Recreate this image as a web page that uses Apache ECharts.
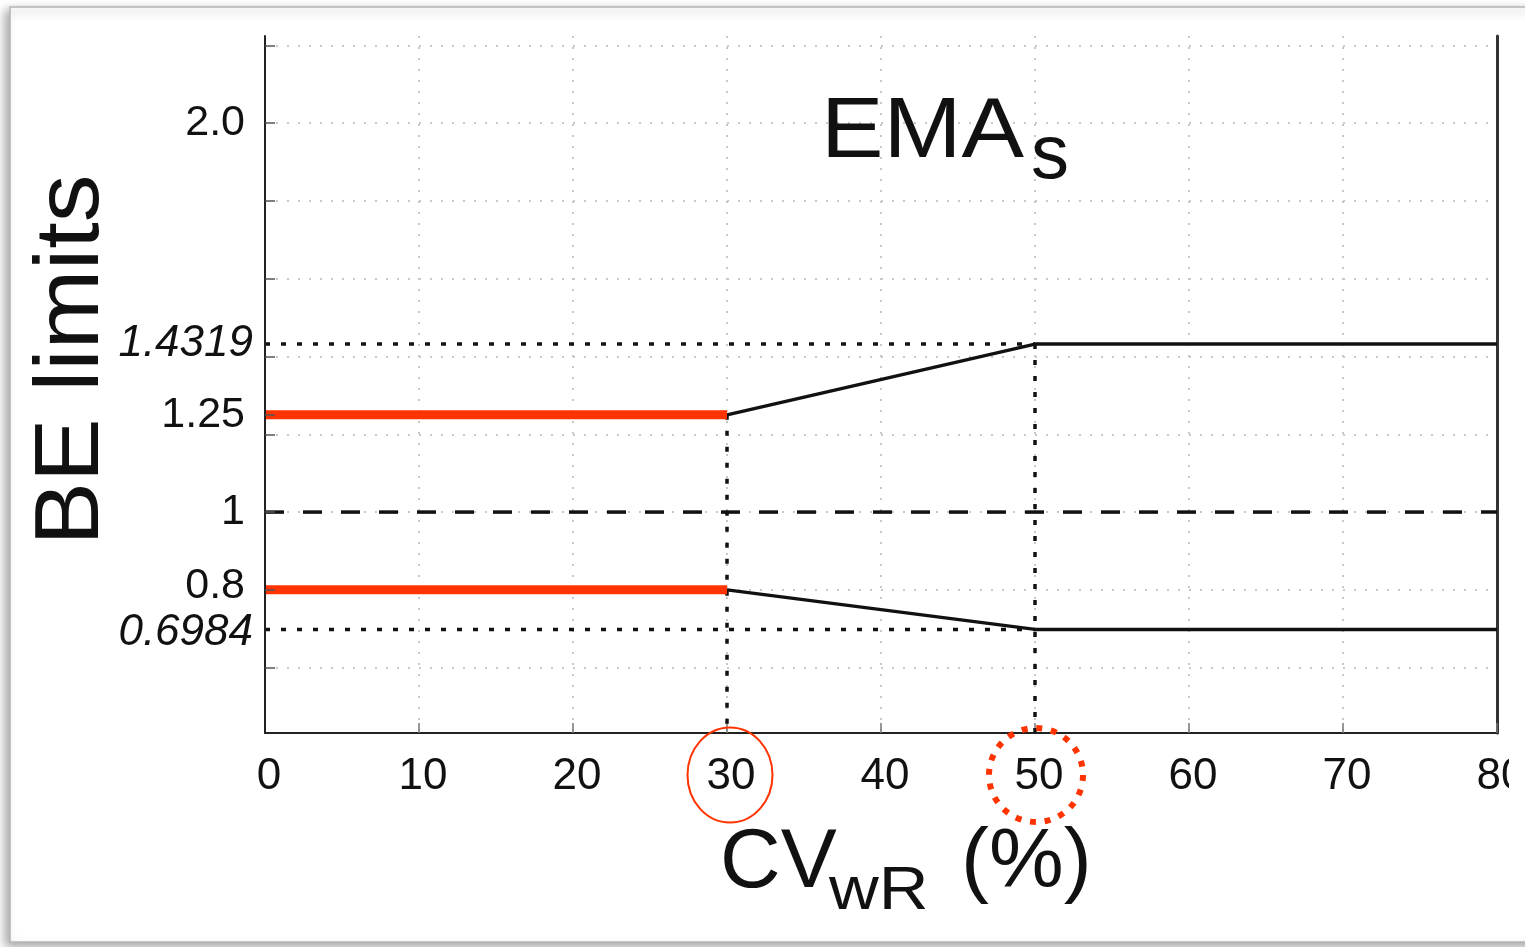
<!DOCTYPE html>
<html>
<head>
<meta charset="utf-8">
<script src="https://cdn.jsdelivr.net/npm/echarts@6/dist/echarts.min.js"></script>
<style>
  html, body { margin: 0; padding: 0; background: #fff; }
  #chart { width: 1525px; height: 947px; }
</style>
</head>
<body>
<div id="chart"></div>
<script>
// Bioequivalence acceptance limits vs. within-subject CV of the reference (EMA, scaled)
const cvTicks = [0, 10, 20, 30, 40, 50, 60, 70, 80];
const cvBreaks = [0, 30, 50, 80];                 // start, scaling begins, scaling capped, end
const upperLimit = [1.25, 1.25, 1.4319, 1.4319];
const lowerLimit = [0.8, 0.8, 0.6984, 0.6984];
const unityValue = 1;
const yRange = [0.432, 2.224];
const yGridValues = [0.6, 0.8, 1.0, 1.2, 1.4, 1.6, 1.8, 2.0, 2.2];
const yLabelValues = [2.0, 1.4319, 1.25, 1, 0.8, 0.6984];
const yLabelTexts = ['2.0', '1.4319', '1.25', '1', '0.8', '0.6984'];
const yLabelItalic = [false, true, false, false, false, true];

const FONT = '"Liberation Sans", Arial, Helvetica, sans-serif';
const RED = '#ff3300';
const xMin = cvTicks[0];
const xMax = cvTicks[cvTicks.length - 1];

function segment(ys, from, to) {
  const pts = [];
  for (let i = from; i <= to; i++) pts.push([cvBreaks[i], ys[i]]);
  return pts;
}

function line(name, data, color, width, type, z) {
  return {
    type: 'line', name, data, z, symbol: 'none', silent: true,
    lineStyle: { color, width, type, cap: 'butt' },
    emphasis: { disabled: true }
  };
}

function label(text, x, y, size, extra) {
  return Object.assign({
    type: 'text', x, y, z: 10, silent: true,
    style: { text, fontSize: size, fontFamily: FONT, fill: '#111',
             align: 'left', verticalAlign: 'middle', textAlign: 'left', textVerticalAlign: 'middle' }
  }, extra || {});
}

function yLabelText(v) {
  for (let i = 0; i < yLabelValues.length; i++) {
    if (Math.abs(v - yLabelValues[i]) < 1e-6) {
      const style = yLabelItalic[i] ? (v < 1 ? 'il' : 'i') : (v < 1 && v > lowerLimit[2] ? 'nl' : 'n');
      return '{' + style + '|' + yLabelTexts[i] + '}';
    }
  }
  return '';
}

const yRich = {
  n: { fontSize: 43, fontFamily: FONT, color: '#111', lineHeight: 20 },
  nl: { fontSize: 43, fontFamily: FONT, color: '#111', lineHeight: 20, padding: [0, 0, 7, 0] },
  i: { fontSize: 44, fontFamily: FONT, color: '#111', fontStyle: 'italic', lineHeight: 20, padding: [0, -8, 0, 0] },
  il: { fontSize: 44, fontFamily: FONT, color: '#111', fontStyle: 'italic', lineHeight: 20, padding: [6, -8, 0, 0] }
};

// the lowest limit label sits close to 0.8, so it lives on its own overlaid axis
const mainLabels = yLabelValues.filter(v => v !== lowerLimit[2]);
const lowLabels = yLabelValues.filter(v => v === lowerLimit[2]);

function labelAxis(values, extra) {
  return Object.assign({
    type: 'value', min: yRange[0], max: yRange[1], position: 'left', z: 5,
    axisLine: { show: false }, axisTick: { show: false }, splitLine: { show: false },
    axisLabel: {
      customValues: values, margin: 20, hideOverlap: false, interval: 0,
      showMinLabel: true, showMaxLabel: true,
      formatter: yLabelText, rich: yRich
    }
  }, extra || {});
}

const chart = echarts.init(document.getElementById('chart'));

chart.setOption({
  animation: false,
  backgroundColor: '#ffffff',
  grid: { left: 265, right: 28, top: 36, bottom: 214, containLabel: false, outerBoundsMode: 'none' },
  xAxis: {
    type: 'value', min: xMin, max: xMax, interval: 10,
    axisLine: { show: true, onZero: false, lineStyle: { color: '#222', width: 2 } },
    axisTick: { show: true, inside: true, length: 10, lineStyle: { color: '#777', width: 1.5 } },
    axisLabel: { fontSize: 44, color: '#111', fontFamily: FONT, margin: 22, padding: [0, 0, 0, 8],
                 showMinLabel: true, showMaxLabel: true, hideOverlap: false },
    splitLine: { show: true, lineStyle: { color: '#c8c8c8', width: 2, type: [2, 9] } }
  },
  yAxis: [
    labelAxis(mainLabels, {
      axisLine: { show: true, onZero: false, lineStyle: { color: '#222', width: 2 } },
      axisTick: {
        show: true, inside: true, length: 10,
        customValues: yGridValues.concat([upperLimit[0]]),
        lineStyle: { color: '#555', width: 1.5 }
      }
    }),
    {
      type: 'value', position: 'right', min: yRange[0], max: yRange[1],
      axisLine: { show: true, onZero: false, lineStyle: { color: '#333', width: 3 } },
      axisTick: { show: false }, axisLabel: { show: false }, splitLine: { show: false }
    },
    labelAxis(lowLabels, { offset: 0 })
  ],
  series: [
    {
      type: 'lines', coordinateSystem: 'cartesian2d', silent: true, z: 1,
      lineStyle: { color: '#c8c8c8', width: 2, type: [2, 9], opacity: 1 },
      data: yGridValues.map(v => ({ coords: [[xMin, v], [xMax, v]] }))
    },
    // dotted guides at the scaling limits
    line('guide-upper', [[xMin, upperLimit[2]], [cvBreaks[2], upperLimit[2]]], '#111', 3.5, [5, 11], 3),
    line('guide-lower', [[xMin, lowerLimit[2]], [cvBreaks[2], lowerLimit[2]]], '#111', 3.5, [5, 11], 3),
    line('guide-cv30', [[cvBreaks[1], upperLimit[1]], [cvBreaks[1], yRange[0]]], '#111', 3.5, [5, 11], 3),
    line('guide-cv50', [[cvBreaks[2], upperLimit[2]], [cvBreaks[2], yRange[0]]], '#111', 3.5, [5, 11], 3),
    // unity
    line('unity', [[xMin, unityValue], [xMax, unityValue]], '#111', 3.5, [19, 19], 3),
    // widened limits (scaled region)
    line('upper-scaled', segment(upperLimit, 1, 3), '#111', 3.5, 'solid', 4),
    line('lower-scaled', segment(lowerLimit, 1, 3), '#111', 3.5, 'solid', 4),
    // conventional limits
    line('upper-fixed', segment(upperLimit, 0, 1), RED, 9, 'solid', 4),
    line('lower-fixed', segment(lowerLimit, 0, 1), RED, 9, 'solid', 4)
  ]
});

const x30 = chart.convertToPixel({ xAxisIndex: 0 }, cvBreaks[1]);
const x50 = chart.convertToPixel({ xAxisIndex: 0 }, cvBreaks[2]);
const yBase = chart.convertToPixel({ yAxisIndex: 0 }, yRange[0]);

chart.setOption({
  graphic: {
    elements: [
      {
        type: 'rect', z: -100, silent: true,
        shape: { x: 10, y: 7, width: 1530, height: 935 },
        style: { fill: '#fff', stroke: '#b5b5b5', lineWidth: 1.5,
                 shadowBlur: 10, shadowColor: 'rgba(0,0,0,0.35)', shadowOffsetX: -4, shadowOffsetY: 4 }
      },
      {
        type: 'rect', z: 100, silent: true,
        shape: { x: 1509, y: 742, width: 16, height: 70 },
        style: { fill: '#fff' }
      },
      label('EMA', 821, 133, 86, { scaleX: 1.09 }),
      label('s', 1031, 157, 76),
      label('BE limits', 73, 360, 90, {
        rotation: Math.PI / 2, scaleX: 1.06,
        style: { text: 'BE limits', fontSize: 90, fontFamily: FONT, fill: '#111',
                 align: 'center', verticalAlign: 'middle', textAlign: 'center', textVerticalAlign: 'middle' }
      }),
      label('CV', 720, 864, 84),
      label('wR', 829, 892, 61, { scaleX: 1.13 }),
      label('(%)', 961, 864, 84),
      {
        type: 'ellipse', z: 10, silent: true,
        shape: { cx: x30 + 3, cy: yBase + 42, rx: 42.5, ry: 47.5 },
        style: { fill: 'transparent', stroke: RED, lineWidth: 2 }
      },
      {
        type: 'circle', z: 10, silent: true,
        shape: { cx: x50 + 1, cy: yBase + 42, r: 47 },
        style: { fill: 'transparent', stroke: RED, lineWidth: 6, lineDash: [6, 8.76] }
      }
    ]
  }
});
</script>
</body>
</html>
